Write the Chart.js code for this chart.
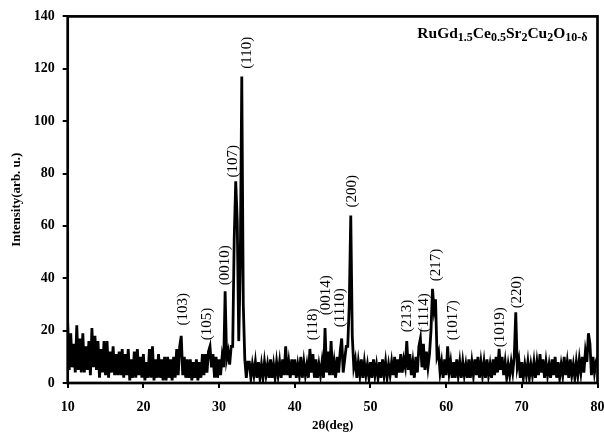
<!DOCTYPE html>
<html>
<head>
<meta charset="utf-8">
<script src="https://cdn.jsdelivr.net/npm/chart.js"></script>
<style>
  body { margin: 0; background: #fff; }
  canvas { display: block; }
</style>
</head>
<body>
<canvas id="myChart" width="604" height="437"></canvas>
<script>
// scan grid: 10 to 80 deg, 0.2 deg steps
const scanStart = 10;
const scanStep = 0.2;

// intensity, one row per degree (5 points each)
const intensity = [
  23, 5, 19, 6, 15,    // 10
  4, 22, 5, 17, 4,     // 11
  19, 4, 14, 5, 16,    // 12
  3, 21, 6, 18, 5,     // 13
  16, 2, 13, 4, 16,    // 14
  3, 16, 2, 12, 4,     // 15
  14, 3, 11, 3, 12,    // 16
  3, 13, 2, 11, 3,     // 17
  13, 1, 9, 2, 12,     // 18
  2, 13, 3, 10, 2,     // 19
  11, 1, 8, 2, 13,     // 20
  2, 14, 1, 9, 2,      // 21
  11, 2, 9, 1, 10,     // 22
  1, 10, 2, 9, 1,      // 23
  10, 2, 13, 3, 14,    // 24
  18, 3, 10, 2, 9,     // 25
  2, 9, 1, 8, 2,       // 26
  9, 1, 8, 2, 11,      // 27
  3, 11, 4, 12, 14,    // 28
  6, 11, 2, 10, 2,     // 29
  9, 3, 10, 6, 35,     // 30
  9, 12, 7, 14, 14,    // 31
  55, 77, 62, 16, 45,  // 32
  117, 30, 9, 2, 8,    // 33
  8, 2, 7, 3, 8,       // 34
  2, 8, 2, 7, 2,       // 35
  8, 3, 7, 2, 9,       // 36
  2, 7, 2, 8, 3,       // 37
  8, 2, 9, 3, 14,      // 38
  3, 8, 2, 9, 3,       // 39
  9, 2, 7, 3, 10,      // 40
  2, 8, 3, 7, 2,       // 41
  13, 4, 11, 2, 9,     // 42
  2, 7, 3, 8, 2,       // 43
  21, 4, 12, 3, 16,    // 44
  3, 8, 2, 10, 4,      // 45
  12, 17, 4, 9, 14,    // 46
  14, 30, 64, 18, 6,   // 47
  9, 2, 8, 3, 9,       // 48
  2, 8, 3, 7, 2,       // 49
  8, 2, 9, 3, 7,       // 50
  2, 8, 2, 9, 3,       // 51
  8, 2, 7, 3, 8,       // 52
  3, 10, 2, 9, 4,      // 53
  11, 4, 9, 6, 16,     // 54
  5, 11, 3, 8, 2,      // 55
  10, 4, 14, 17, 6,    // 56
  15, 5, 12, 6, 11,    // 57
  20, 36, 28, 32, 10,  // 58
  12, 4, 8, 2, 9,      // 59
  3, 14, 4, 8, 2,      // 60
  8, 2, 9, 3, 8,       // 61
  2, 8, 3, 7, 2,       // 62
  9, 2, 8, 3, 9,       // 63
  3, 10, 2, 8, 3,      // 64
  8, 2, 9, 3, 7,       // 65
  2, 9, 3, 10, 4,      // 66
  13, 5, 10, 3, 8,     // 67
  2, 7, 3, 8, 4,       // 68
  10, 27, 6, 9, 2,     // 69
  8, 2, 7, 3, 8,       // 70
  2, 7, 3, 8, 2,       // 71
  8, 3, 11, 4, 9,      // 72
  2, 8, 3, 7, 2,       // 73
  9, 3, 10, 2, 8,      // 74
  2, 7, 3, 10, 3,      // 75
  8, 2, 9, 3, 7,       // 76
  2, 8, 3, 9, 4,       // 77
  10, 4, 12, 8, 19,    // 78
  15, 3, 10, 4, 8,     // 79
  10                   // 80
];

// peak indices and where their labels sit (deg, intensity at text start)
const peakLabels = ['(103)', '(105)', '(0010)', '(107)', '(110)', '(118)', '(0014)', '(1110)',
                    '(200)', '(213)', '(1114)', '(217)', '(1017)', '(1019)', '(220)'];
const peakLabelAngle = [25.2, 28.4, 30.8, 31.8, 33.7, 42.4, 44.1, 46.0, 47.6, 54.8, 57.1, 58.7, 60.9, 67.1, 69.4];
const peakLabelLevel = [22, 16.3, 37.3, 78.5, 120, 16.3, 25.9, 21.3, 67, 19.4, 19.4, 38.9, 16.3, 13.7, 28.5];

const xTicks = [10, 20, 30, 40, 50, 60, 70, 80];
const yTicks = [0, 20, 40, 60, 80, 100, 120, 140];

const serif = '"Liberation Serif", "Times New Roman", serif';

// compound name, pieces with subscript flag
const compound = [['Ru', 0], ['Gd', 0], ['1.5', 1], ['Ce', 0], ['0.5', 1], ['Sr', 0], ['2', 1],
                  ['Cu', 0], ['2', 1], ['O', 0], ['10-\u03b4', 1]];

const points = intensity.map((v, i) => ({ x: scanStart + i * scanStep, y: v }));

const extras = {
  id: 'extras',
  afterDraw(chart) {
    const ctx = chart.ctx;
    const area = chart.chartArea;
    const xs = chart.scales.x;
    const ys = chart.scales.y;
    ctx.save();
    // frame
    ctx.strokeStyle = '#000';
    ctx.lineWidth = 2.7;
    ctx.strokeRect(area.left, area.top, area.right - area.left, area.bottom - area.top);

    // peak labels
    ctx.fillStyle = '#000';
    ctx.font = '15px ' + serif;
    ctx.textAlign = 'left';
    ctx.textBaseline = 'middle';
    for (let i = 0; i < peakLabels.length; i++) {
      ctx.save();
      ctx.translate(xs.getPixelForValue(peakLabelAngle[i]), ys.getPixelForValue(peakLabelLevel[i]));
      ctx.rotate(-Math.PI / 2);
      ctx.fillText(peakLabels[i], 0, 0);
      ctx.restore();
    }

    // compound name, right aligned in top corner
    const big = 'bold 15.5px ' + serif;
    const small = 'bold 12px ' + serif;
    let total = 0;
    compound.forEach(p => {
      ctx.font = p[1] ? small : big;
      total += ctx.measureText(p[0]).width;
    });
    let x = area.right - 10 - total;
    const base = 37.5;
    ctx.textBaseline = 'alphabetic';
    compound.forEach(p => {
      ctx.font = p[1] ? small : big;
      ctx.fillText(p[0], x, p[1] ? base + 3 : base);
      x += ctx.measureText(p[0]).width;
    });
    ctx.restore();
  }
};

const chartElement = document.getElementById('myChart');

new Chart(chartElement, {
  type: 'line',
  data: {
    datasets: [{
      data: points,
      borderColor: '#000',
      borderWidth: 2.8,
      pointRadius: 0,
      tension: 0,
      fill: false
    }]
  },
  options: {
    responsive: false,
    animation: false,
    events: [],
    layout: { padding: { top: 16, right: 6.5, left: 0, bottom: 0 } },
    plugins: {
      legend: { display: false },
      tooltip: { enabled: false }
    },
    scales: {
      x: {
        type: 'linear',
        min: 10,
        max: 80,
        afterBuildTicks: s => { s.ticks = xTicks.map(v => ({ value: v })); },
        afterFit: s => { s.height = 54; s.paddingLeft = 0; s.paddingRight = 0; },
        border: { display: false },
        grid: { drawOnChartArea: false, drawTicks: true, tickLength: 5, color: '#000', lineWidth: 2 },
        ticks: { color: '#000', padding: 11, maxRotation: 0, font: { family: serif, size: 14, weight: 'bold' } },
        title: {
          display: true,
          text: '2\u03b8(deg)',
          color: '#000',
          padding: { top: 0, bottom: 4 },
          font: { family: serif, size: 13, weight: 'bold' }
        }
      },
      y: {
        min: 0,
        max: 140,
        afterBuildTicks: s => { s.ticks = yTicks.map(v => ({ value: v })); },
        afterFit: s => { s.width = 67.7; },
        border: { display: false },
        grid: { drawOnChartArea: false, drawTicks: true, tickLength: 5, color: '#000', lineWidth: 2 },
        ticks: { color: '#000', padding: 8, font: { family: serif, size: 14, weight: 'bold' } },
        title: {
          display: true,
          text: 'Intensity(arb. u.)',
          color: '#000',
          padding: { top: 9, bottom: 0 },
          font: { family: serif, size: 13, weight: 'bold' }
        }
      }
    }
  },
  plugins: [extras]
});
</script>
</body>
</html>
